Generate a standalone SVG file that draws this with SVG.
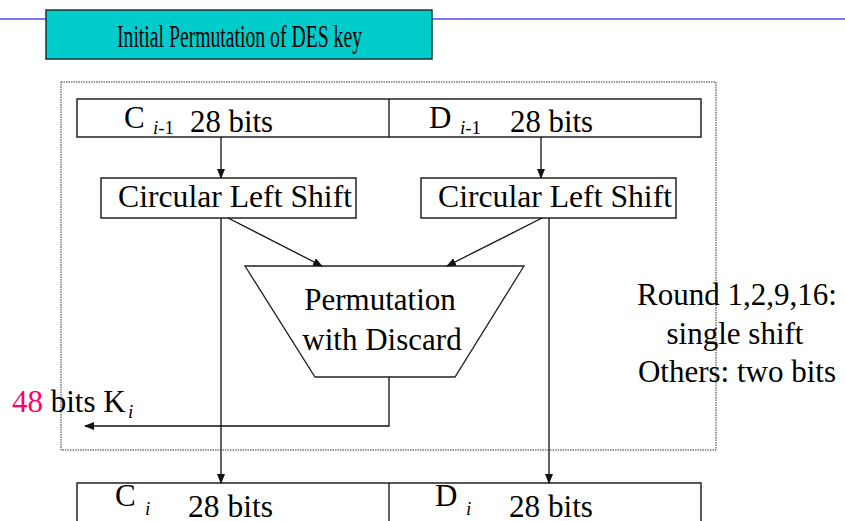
<svg xmlns="http://www.w3.org/2000/svg" width="845" height="521" viewBox="0 0 845 521">
<style>
text{font-family:"Liberation Serif","Times New Roman",serif;fill:#000}
.t{font-size:31px}
.sub{font-size:19px;font-style:italic}
.box{fill:#fff;stroke:#222;stroke-width:1.5}
.ln{stroke:#111;stroke-width:1.3;fill:none}
</style>
<defs>
<marker id="ah" markerWidth="10" markerHeight="8" refX="9" refY="4" orient="auto" markerUnits="userSpaceOnUse">
<path d="M0,0 L10,4 L0,8 Z" fill="#111"/>
</marker>
</defs>
<rect width="845" height="521" fill="#fff"/>
<line x1="0" y1="19" x2="845" y2="19" stroke="#7b7bef" stroke-width="2"/>
<g id="title">
<rect x="46" y="10" width="386" height="49" fill="#00cccc" stroke="#1a3333" stroke-width="1.5"/>
<text class="t" x="117" y="47" textLength="245" lengthAdjust="spacingAndGlyphs">Initial Permutation of DES key</text>
</g>
<g id="frame">
<rect x="61" y="82" width="655" height="368" fill="none" stroke="#333" stroke-width="1" stroke-dasharray="1.5,1"/>
</g>
<g id="top-row">
<rect class="box" x="77" y="99" width="624" height="38"/>
<line class="ln" x1="389" y1="99" x2="389" y2="137"/>
<text class="t" x="124" y="128">C</text>
<text class="sub" x="153" y="134">i<tspan font-style="normal">-1</tspan></text>
<text class="t" x="190" y="132" textLength="83" lengthAdjust="spacingAndGlyphs">28 bits</text>
<text class="t" x="429" y="128">D</text>
<text class="sub" x="460" y="134">i<tspan font-style="normal">-1</tspan></text>
<text class="t" x="510" y="132" textLength="83" lengthAdjust="spacingAndGlyphs">28 bits</text>
</g>
<g id="cls-left">
<rect class="box" x="101" y="178" width="255" height="40"/>
<text class="t" x="118" y="207" textLength="234" lengthAdjust="spacingAndGlyphs">Circular Left Shift</text>
</g>
<g id="cls-right">
<rect class="box" x="421" y="178" width="255" height="40"/>
<text class="t" x="438" y="207" textLength="234" lengthAdjust="spacingAndGlyphs">Circular Left Shift</text>
</g>
<g id="pc2">
<polygon points="245,266 524,266 455,377 315,377" fill="#fff" stroke="#222" stroke-width="1.3"/>
<text class="t" x="380" y="310" text-anchor="middle">Permutation</text>
<text class="t" x="382" y="350" text-anchor="middle">with Discard</text>
</g>
<g id="note">
<text class="t" x="737" y="305" text-anchor="middle">Round 1,2,9,16:</text>
<text class="t" x="735" y="344" text-anchor="middle">single shift</text>
<text class="t" x="737" y="382" text-anchor="middle">Others: two bits</text>
</g>
<g id="key-label">
<text class="t" x="12" y="412"><tspan fill="#ff0066">48</tspan> bits K</text>
<text class="sub" x="128" y="418">i</text>
</g>
<g id="bottom-row">
<rect class="box" x="77" y="483" width="624" height="50"/>
<line class="ln" x1="389" y1="483" x2="389" y2="521"/>
<text class="t" x="115" y="506">C</text>
<text class="sub" x="145" y="515">i</text>
<text class="t" x="188" y="517" textLength="85" lengthAdjust="spacingAndGlyphs">28 bits</text>
<text class="t" x="435" y="506">D</text>
<text class="sub" x="466" y="515">i</text>
<text class="t" x="509" y="517" textLength="84" lengthAdjust="spacingAndGlyphs">28 bits</text>
</g>
<g id="connectors">
<line class="ln" x1="221" y1="137" x2="221" y2="178" marker-end="url(#ah)"/>
<line class="ln" x1="541" y1="137" x2="541" y2="178" marker-end="url(#ah)"/>
<line class="ln" x1="228" y1="218" x2="322" y2="266" marker-end="url(#ah)"/>
<line class="ln" x1="542" y1="218" x2="447" y2="266" marker-end="url(#ah)"/>
<line class="ln" x1="221" y1="218" x2="221" y2="483" marker-end="url(#ah)"/>
<line class="ln" x1="549" y1="218" x2="549" y2="483" marker-end="url(#ah)"/>
<polyline class="ln" points="389,377 389,426 85,426" marker-end="url(#ah)"/>
</g>
</svg>
